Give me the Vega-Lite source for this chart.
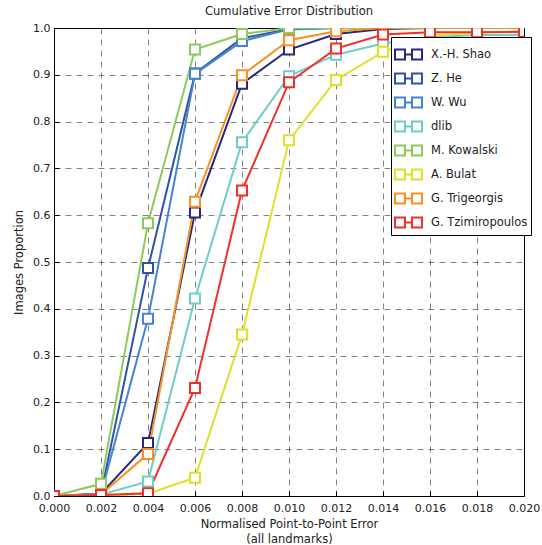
{
  "$schema": "https://vega.github.io/schema/vega-lite/v6.json",
  "width": 470,
  "height": 468,
  "autosize": {"type": "none"},
  "padding": {"left": 54, "top": 28, "right": 18, "bottom": 49},
  "background": "white",
  "title": {"text": "Cumulative Error Distribution", "font": "DejaVu Sans", "fontSize": 11.5, "fontWeight": "normal", "color": "#222", "offset": 5, "anchor": "middle"},
  "config": {
    "font": "DejaVu Sans",
    "view": {"stroke": "#000", "strokeWidth": 1},
    "axis": {
      "labelFont": "DejaVu Sans", "labelFontSize": 11, "labelColor": "#222",
      "titleFont": "DejaVu Sans", "titleFontSize": 11.5, "titleFontWeight": "normal", "titleColor": "#222",
      "grid": true, "gridColor": "#000", "gridOpacity": 0.55, "gridDash": [6, 5], "gridWidth": 0.9,
      "domain": false, "tickColor": "#000", "tickSize": -5, "labelPadding": 9,
      "labelOverlap": false, "labelFlush": false
    }
  },
  "data": {"values": [
    {"m": "X.-H. Shao", "x": 0.000, "y": 0.0},
    {"m": "X.-H. Shao", "x": 0.002, "y": 0.005},
    {"m": "X.-H. Shao", "x": 0.004, "y": 0.113},
    {"m": "X.-H. Shao", "x": 0.006, "y": 0.606},
    {"m": "X.-H. Shao", "x": 0.008, "y": 0.881},
    {"m": "X.-H. Shao", "x": 0.010, "y": 0.954},
    {"m": "X.-H. Shao", "x": 0.012, "y": 0.987},
    {"m": "X.-H. Shao", "x": 0.014, "y": 0.998},
    {"m": "X.-H. Shao", "x": 0.016, "y": 1.0},
    {"m": "X.-H. Shao", "x": 0.018, "y": 1.0},
    {"m": "X.-H. Shao", "x": 0.020, "y": 1.0},
    {"m": "Z. He", "x": 0.000, "y": 0.0},
    {"m": "Z. He", "x": 0.002, "y": 0.005},
    {"m": "Z. He", "x": 0.004, "y": 0.487},
    {"m": "Z. He", "x": 0.006, "y": 0.903},
    {"m": "Z. He", "x": 0.008, "y": 0.978},
    {"m": "Z. He", "x": 0.010, "y": 0.998},
    {"m": "Z. He", "x": 0.012, "y": 1.0},
    {"m": "Z. He", "x": 0.014, "y": 1.0},
    {"m": "Z. He", "x": 0.016, "y": 1.0},
    {"m": "Z. He", "x": 0.018, "y": 1.0},
    {"m": "Z. He", "x": 0.020, "y": 1.0},
    {"m": "W. Wu", "x": 0.000, "y": 0.0},
    {"m": "W. Wu", "x": 0.002, "y": 0.004},
    {"m": "W. Wu", "x": 0.004, "y": 0.379},
    {"m": "W. Wu", "x": 0.006, "y": 0.902},
    {"m": "W. Wu", "x": 0.008, "y": 0.972},
    {"m": "W. Wu", "x": 0.010, "y": 0.997},
    {"m": "W. Wu", "x": 0.012, "y": 1.0},
    {"m": "W. Wu", "x": 0.014, "y": 1.0},
    {"m": "W. Wu", "x": 0.016, "y": 1.0},
    {"m": "W. Wu", "x": 0.018, "y": 1.0},
    {"m": "W. Wu", "x": 0.020, "y": 1.0},
    {"m": "dlib", "x": 0.000, "y": 0.0},
    {"m": "dlib", "x": 0.002, "y": 0.003},
    {"m": "dlib", "x": 0.004, "y": 0.031},
    {"m": "dlib", "x": 0.006, "y": 0.422},
    {"m": "dlib", "x": 0.008, "y": 0.756},
    {"m": "dlib", "x": 0.010, "y": 0.897},
    {"m": "dlib", "x": 0.012, "y": 0.943},
    {"m": "dlib", "x": 0.014, "y": 0.967},
    {"m": "dlib", "x": 0.016, "y": 0.980},
    {"m": "dlib", "x": 0.018, "y": 0.985},
    {"m": "dlib", "x": 0.020, "y": 0.985},
    {"m": "M. Kowalski", "x": 0.000, "y": 0.0},
    {"m": "M. Kowalski", "x": 0.002, "y": 0.026},
    {"m": "M. Kowalski", "x": 0.004, "y": 0.583},
    {"m": "M. Kowalski", "x": 0.006, "y": 0.954},
    {"m": "M. Kowalski", "x": 0.008, "y": 0.987},
    {"m": "M. Kowalski", "x": 0.010, "y": 1.0},
    {"m": "M. Kowalski", "x": 0.012, "y": 1.0},
    {"m": "M. Kowalski", "x": 0.014, "y": 1.0},
    {"m": "M. Kowalski", "x": 0.016, "y": 1.0},
    {"m": "M. Kowalski", "x": 0.018, "y": 1.0},
    {"m": "M. Kowalski", "x": 0.020, "y": 1.0},
    {"m": "A. Bulat", "x": 0.000, "y": 0.0},
    {"m": "A. Bulat", "x": 0.002, "y": 0.0},
    {"m": "A. Bulat", "x": 0.004, "y": 0.005},
    {"m": "A. Bulat", "x": 0.006, "y": 0.039},
    {"m": "A. Bulat", "x": 0.008, "y": 0.345},
    {"m": "A. Bulat", "x": 0.010, "y": 0.760},
    {"m": "A. Bulat", "x": 0.012, "y": 0.889},
    {"m": "A. Bulat", "x": 0.014, "y": 0.949},
    {"m": "A. Bulat", "x": 0.016, "y": 0.984},
    {"m": "A. Bulat", "x": 0.018, "y": 0.990},
    {"m": "A. Bulat", "x": 0.020, "y": 0.993},
    {"m": "G. Trigeorgis", "x": 0.000, "y": 0.0},
    {"m": "G. Trigeorgis", "x": 0.002, "y": 0.003},
    {"m": "G. Trigeorgis", "x": 0.004, "y": 0.090},
    {"m": "G. Trigeorgis", "x": 0.006, "y": 0.629},
    {"m": "G. Trigeorgis", "x": 0.008, "y": 0.899},
    {"m": "G. Trigeorgis", "x": 0.010, "y": 0.974},
    {"m": "G. Trigeorgis", "x": 0.012, "y": 0.993},
    {"m": "G. Trigeorgis", "x": 0.014, "y": 1.0},
    {"m": "G. Trigeorgis", "x": 0.016, "y": 1.0},
    {"m": "G. Trigeorgis", "x": 0.018, "y": 1.0},
    {"m": "G. Trigeorgis", "x": 0.020, "y": 1.0},
    {"m": "G. Tzimiropoulos", "x": 0.000, "y": 0.0},
    {"m": "G. Tzimiropoulos", "x": 0.002, "y": 0.002},
    {"m": "G. Tzimiropoulos", "x": 0.004, "y": 0.006},
    {"m": "G. Tzimiropoulos", "x": 0.006, "y": 0.231},
    {"m": "G. Tzimiropoulos", "x": 0.008, "y": 0.653},
    {"m": "G. Tzimiropoulos", "x": 0.010, "y": 0.884},
    {"m": "G. Tzimiropoulos", "x": 0.012, "y": 0.956},
    {"m": "G. Tzimiropoulos", "x": 0.014, "y": 0.986},
    {"m": "G. Tzimiropoulos", "x": 0.016, "y": 0.991},
    {"m": "G. Tzimiropoulos", "x": 0.018, "y": 0.991},
    {"m": "G. Tzimiropoulos", "x": 0.020, "y": 0.992}
  ]},
  "encoding": {
    "x": {"field": "x", "type": "quantitative", "scale": {"domain": [0, 0.02], "nice": false},
      "axis": {"values": [0, 0.002, 0.004, 0.006, 0.008, 0.01, 0.012, 0.014, 0.016, 0.018, 0.02], "format": ".3f",
        "labelPadding": 11,
        "title": ["Normalised Point-to-Point Error", "(all landmarks)"], "titlePadding": 5, "titleLineHeight": 15}},
    "y": {"field": "y", "type": "quantitative", "scale": {"domain": [0, 1], "nice": false},
      "axis": {"values": [0, 0.1, 0.2, 0.3, 0.4, 0.5, 0.6, 0.7, 0.8, 0.9, 1.0], "format": ".1f", "title": "Images Proportion", "titlePadding": 8}},
    "stroke": {"field": "m", "type": "nominal",
      "scale": {
        "domain": ["X.-H. Shao", "Z. He", "W. Wu", "dlib", "M. Kowalski", "A. Bulat", "G. Trigeorgis", "G. Tzimiropoulos"],
        "range": ["#28297e", "#2f52ab", "#4484d0", "#6fcdc6", "#8dca5c", "#e0e024", "#fb9020", "#f0302a"]
      },
      "legend": {
        "title": null, "orient": "none", "legendX": 337, "legendY": 9,
        "fillColor": "white", "strokeColor": "#000", "padding": 3,
        "symbolType": "M-1,-0.37H-0.26V0.37H-1Z M0.26,-0.37H1V0.37H0.26Z M-0.26,0H0.26",
        "symbolSize": 729, "symbolStrokeWidth": 2, "symbolFillColor": "white",
        "labelFont": "DejaVu Sans", "labelFontSize": 11.5, "labelColor": "#222", "labelOffset": 8,
        "rowPadding": -3, "labelLimit": 200
      }
    }
  },
  "layer": [
    {"mark": {"type": "line", "strokeWidth": 2, "clip": true}, "encoding": {"detail": {"field": "m"}}},
    {"mark": {"type": "point", "shape": "square", "size": 100, "filled": false, "fill": "white", "fillOpacity": 1, "strokeWidth": 2, "opacity": 1, "clip": true}}
  ]
}
